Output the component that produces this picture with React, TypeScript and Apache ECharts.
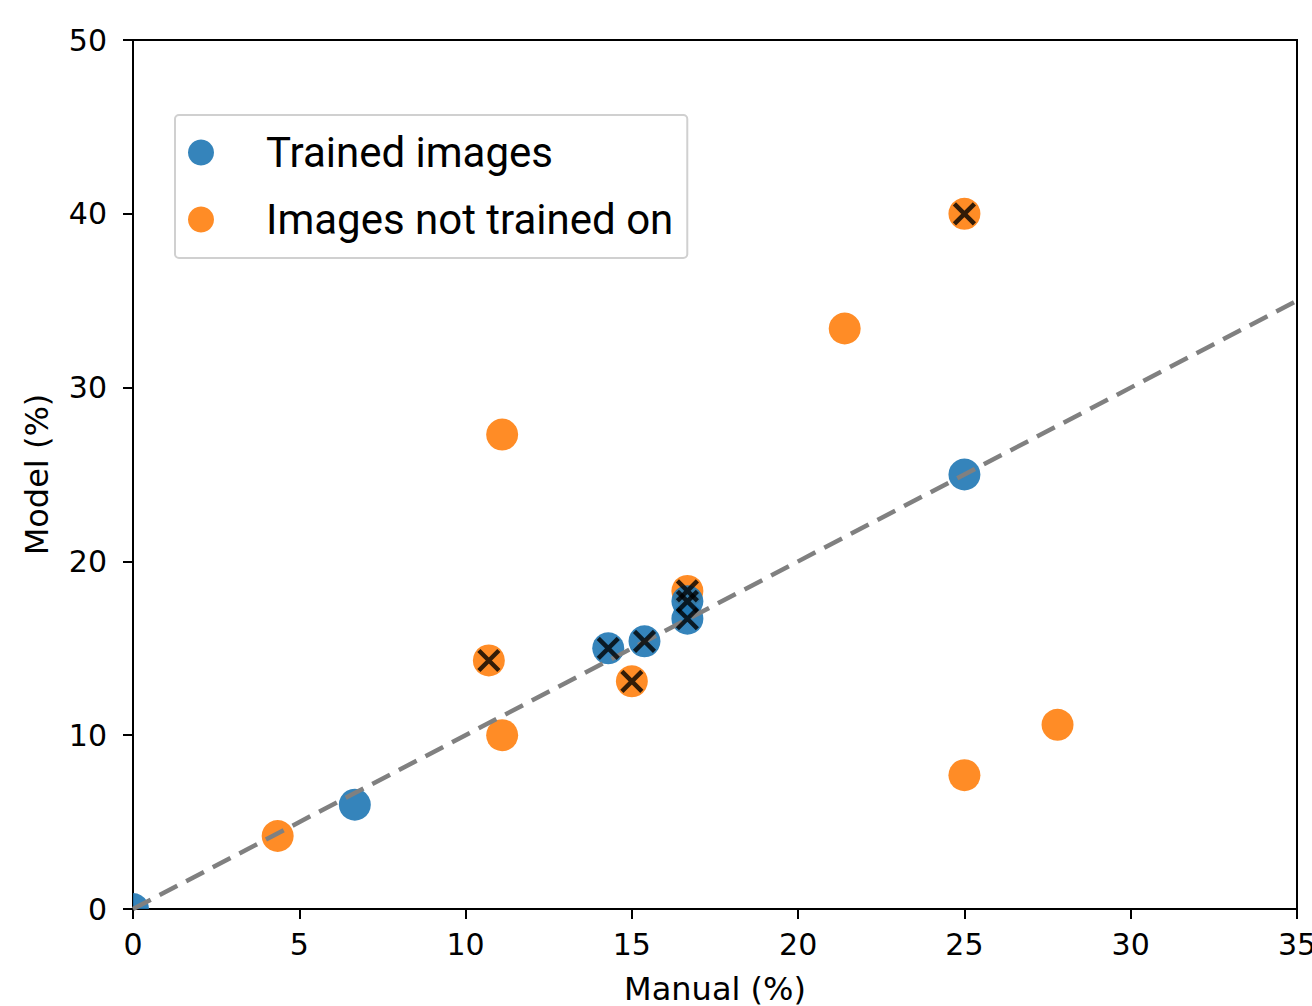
import React, { useEffect, useRef } from 'react';
import * as echarts from 'echarts';

const trainedX = [0, 6.67, 14.29, 15.38, 16.67, 16.67, 25];
const trainedY = [0, 6.0, 15.0, 15.4, 16.7, 17.7, 25.0];
const untrainedX = [4.35, 11.1, 11.1, 10.7, 15.0, 16.67, 21.4, 25, 25, 27.8];
const untrainedY = [4.2, 10.0, 27.3, 14.3, 13.1, 18.3, 33.4, 40.0, 7.7, 10.6];
const flaggedX = [14.29, 15.38, 16.67, 16.67, 16.67, 10.7, 15.0, 25];
const flaggedY = [15.0, 15.4, 16.7, 17.7, 18.3, 14.3, 13.1, 40.0];
const identityX = [0, 35];
const identityY = [0, 35];
const seriesNames = ['Trained images', 'Images not trained on'];
const xAxisName = 'Manual (%)';
const yAxisName = 'Model (%)';

const BLUE = '#1f77b4';
const ORANGE = '#ff7f0e';
const R = 16;

const zip = (xs: number[], ys: number[]) => xs.map((x, i) => [x, ys[i]]);

const circleRender = (color: string) => (params: any, api: any) => {
  const p = api.coord([api.value(0), api.value(1)]);
  return {
    type: 'circle',
    shape: { cx: p[0], cy: p[1], r: R },
    style: { fill: color, opacity: 0.9 },
  };
};

export default function App() {
  const ref = useRef<HTMLDivElement>(null);
  useEffect(() => {
    if (!ref.current) return;
    const chart = echarts.init(ref.current, null, { renderer: 'svg' });
    const axisCommon = {
      axisLine: { show: true, onZero: false, lineStyle: { color: '#000', width: 2 } },
      axisTick: { show: true, inside: false, length: 10, lineStyle: { color: '#000', width: 2 } },
      splitLine: { show: false },
      nameTextStyle: { fontFamily: 'DejaVu Sans', fontSize: 32, color: '#000' },
    };
    chart.setOption({
      animation: false,
      backgroundColor: '#fff',
      grid: {
        left: 133, top: 40, right: 15, bottom: 97,
        outerBoundsMode: 'none',
        containLabel: false,
        show: true, borderColor: '#000', borderWidth: 2, backgroundColor: 'transparent',
      },
      xAxis: {
        type: 'value', min: 0, max: 35, interval: 5,
        name: xAxisName, nameLocation: 'middle', nameGap: 64,
        axisLabel: { fontFamily: 'DejaVu Sans', fontSize: 30, color: '#000', margin: 20 },
        ...axisCommon,
      },
      yAxis: {
        type: 'value', min: 0, max: 50, interval: 10,
        name: yAxisName, nameLocation: 'middle', nameGap: 80,
        axisLabel: { fontFamily: 'DejaVu Sans', fontSize: 30, color: '#000', margin: 26 },
        ...axisCommon,
      },
      legend: {
        orient: 'vertical',
        left: 175, top: 115,
        data: [
          { name: seriesNames[0], icon: 'circle', itemStyle: { color: BLUE, opacity: 0.9 } },
          { name: seriesNames[1], icon: 'circle', itemStyle: { color: ORANGE, opacity: 0.9 } },
        ],
        itemWidth: 26, itemHeight: 26, itemGap: 24,
        padding: [16, 14, 17, 13],
        borderColor: '#d0d0d0', borderWidth: 2, borderRadius: 4,
        backgroundColor: 'rgba(255,255,255,0.8)',
        textStyle: { fontFamily: 'Roboto', fontSize: 42, color: '#000', lineHeight: 40, padding: [0, 0, 3, 47] },
        selectedMode: false,
      },
      series: [
        {
          type: 'custom', name: seriesNames[1], clip: true,
          renderItem: circleRender(ORANGE),
          itemStyle: { color: ORANGE },
          data: zip(untrainedX, untrainedY), z: 2,
        },
        {
          type: 'custom', name: seriesNames[0], clip: true,
          renderItem: circleRender(BLUE),
          itemStyle: { color: BLUE },
          data: zip(trainedX, trainedY), z: 2,
        },
        {
          type: 'line', data: zip(identityX, identityY), showSymbol: false, symbol: 'none',
          lineStyle: { color: '#808080', width: 4.5, type: [20, 10] }, z: 3, silent: true,
        },
        {
          type: 'scatter', data: zip(flaggedX, flaggedY),
          symbol: 'path://M0,0L10,10M10,0L0,10', symbolSize: 20,
          itemStyle: { color: 'none', borderColor: '#000', borderWidth: 4.5 }, z: 4, silent: true,
        },
      ],
    });
    return () => chart.dispose();
  }, []);
  return <div ref={ref} style={{ width: 1312, height: 1006, position: 'absolute', left: 0, top: 0 }} />;
}
